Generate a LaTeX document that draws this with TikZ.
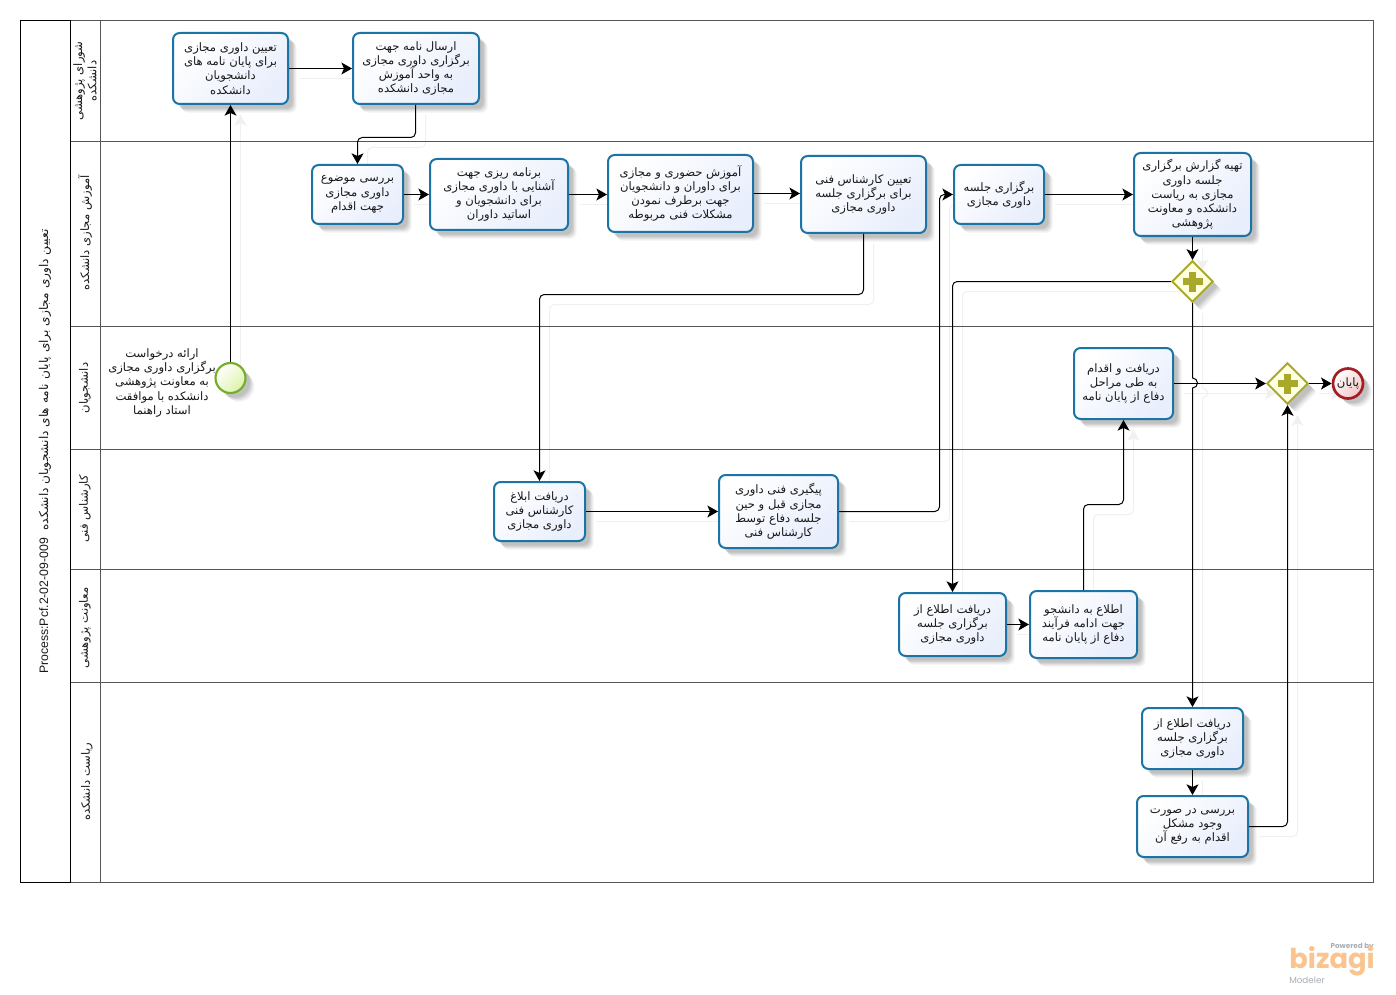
\documentclass[tikz,border=0pt]{standalone}
\usepackage{fontspec}
\setmainfont{DejaVu Sans}
\newfontfamily\arabicfont[Script=Arabic]{DejaVu Sans}
\newfontfamily\latinfont{Liberation Sans}
\newfontfamily\logofont{Poppins}
\TeXXeTstate=1
\usetikzlibrary{arrows.meta,shapes.geometric,shadows}
\pgfdeclarelayer{base}
\pgfdeclarelayer{ghost}
\pgfsetlayers{base,ghost,main}
\newcommand\fa[1]{\beginR #1\endR}
\definecolor{taskline}{HTML}{1B74A3}
\definecolor{taskfill}{HTML}{E8EEFC}
\definecolor{gateline}{HTML}{A8A82A}
\definecolor{gatefill}{HTML}{FFFFE2}
\definecolor{startline}{HTML}{72AE28}
\definecolor{startfill}{HTML}{DDF2A8}
\definecolor{endline}{HTML}{A31D22}
\definecolor{endfill}{HTML}{F2C6C6}
\definecolor{laneline}{HTML}{555555}
\definecolor{logoorange}{HTML}{F9C48F}
\definecolor{logogray}{HTML}{A9AFB5}
\tikzset{
  x=0.75pt,y=-0.75pt,
  farsi/.style={font=\arabicfont\fontsize{8.7}{10.7}\selectfont,align=center,text=black!90},
  softshadow/.style={
    drop shadow={shadow xshift=6.5pt,shadow yshift=-6.5pt,opacity=.05,fill=black},
    drop shadow={shadow xshift=5.5pt,shadow yshift=-5.5pt,opacity=.06,fill=black},
    drop shadow={shadow xshift=4.5pt,shadow yshift=-4.5pt,opacity=.07,fill=black},
    drop shadow={shadow xshift=3.5pt,shadow yshift=-3.5pt,opacity=.08,fill=black}},
  taskbox/.style={farsi,rectangle,rounded corners=5pt,draw=taskline,line width=1.5pt,
    left color=white,right color=taskfill,shading angle=45,inner sep=0pt,softshadow},
  gatebox/.style={diamond,aspect=1,inner sep=0pt,minimum width=31pt,minimum height=31pt,
    draw=gateline,line width=1.5pt,fill=gatefill,softshadow},
  plusmark/.style={fill=gateline,draw=none},
  startev/.style={circle,inner sep=0pt,minimum size=22.5pt,draw=startline,line width=1.6pt,
    left color=white,right color=startfill,shading angle=45,softshadow},
  endev/.style={farsi,circle,inner sep=0pt,minimum size=22.5pt,draw=endline,line width=2pt,
    left color=white,right color=endfill,shading angle=45,softshadow},
  lanetext/.style={farsi,rotate=90},
  laneedge/.style={draw=laneline,line width=.75pt},
  poolframe/.style={draw=black,line width=.75pt},
  connbase/.style={line width=.75pt,rounded corners=3.5pt,
    -{Stealth[length=8pt,width=9pt,inset=2pt]}},
  conn/.style={connbase,draw=black},
  ghostline/.style={connbase,draw=black!6,transform canvas={shift={(7.5pt,-7.5pt)}}},
}
\newcommand\tbox[6]{\node[taskbox,minimum width={(#4-#2)*0.75pt},minimum height={(#5-#3)*0.75pt}] (#1) at ({(#2+#4)/2},{(#3+#5)/2}) {#6};}
\newcommand\plus[1]{\fill[plusmark] ([shift={(-10,-3.5)}]#1) rectangle ([shift={(10,3.5)}]#1);\fill[plusmark] ([shift={(-3.5,-10)}]#1) rectangle ([shift={(3.5,10)}]#1);}
\newcommand\conn[2][]{\begin{pgfonlayer}{ghost}\draw[ghostline,#1] #2;\end{pgfonlayer}\draw[conn,#1] #2;}
\begin{document}
\begin{tikzpicture}
\useasboundingbox (0,0) rectangle (1396,995);
\begin{pgfonlayer}{base}
\fill[white] (0,0) rectangle (1396,995);
\end{pgfonlayer}
% pool and lanes
\draw[laneedge] (70.5,20.5) rectangle (1373.5,882.5);
\draw[laneedge] (100.5,20.5) -- (100.5,882.5);
\foreach \yy in {141.5,326.5,449.5,569.5,682.5} {\draw[laneedge] (70.5,\yy) -- (1373.5,\yy);}
\draw[poolframe] (20.5,20.5) rectangle (70.5,882.5);
\node[farsi,rotate=90,font=\arabicfont\fontsize{9.1}{11}\selectfont] (pooltitle) at (45,451.5) {{\latinfont\fontsize{9.2}{10}\selectfont Process:Pcf.2-02-09-009}\ \ \fa{تعیین داوری مجازی برای پایان نامه های دانشجویان دانشکده}};
\node[lanetext] (l1) at (85,81) {\fa{شورای پژوهشی}\\\fa{دانشکده}};
\node[lanetext] (l2) at (85,233) {\fa{آموزش مجازی دانشکده}};
\node[lanetext] (l3) at (85,388) {\fa{دانشجویان}};
\node[lanetext] (l4) at (85,509) {\fa{کارشناس فنی}};
\node[lanetext] (l5) at (85,628) {\fa{معاونت پژوهشی}};
\node[lanetext] (l6) at (87,782) {\fa{ریاست دانشکده}};
% tasks
\tbox{t1}{173}{33}{288}{104}{\fa{تعیین داوری مجازی}\\\fa{برای پایان نامه های}\\\fa{دانشجویان}\\\fa{دانشکده}}
\tbox{t2}{353}{33}{479}{104}{\fa{ارسال نامه جهت}\\\fa{برگزاری داوری مجازی}\\\fa{به واحد آموزش}\\\fa{مجازی دانشکده}}
\tbox{t3}{312}{165}{403}{224}{\fa{بررسی موضوع}\\\fa{داوری مجازی}\\\fa{جهت اقدام}}
\tbox{t4}{430}{159}{568}{230}{\fa{برنامه ریزی جهت}\\\fa{آشنایی با داوری مجازی}\\\fa{برای دانشجویان و}\\\fa{اساتید داوران}}
\tbox{t5}{608}{155}{753}{232}{\fa{آموزش حضوری و مجازی}\\\fa{برای داوران و دانشجویان}\\\fa{جهت برطرف نمودن}\\\fa{مشکلات فنی مربوطه}}
\tbox{t6}{801}{156}{926}{233}{\fa{تعیین  کارشناس فنی}\\\fa{برای برگزاری جلسه}\\\fa{داوری مجازی}}
\tbox{t7}{954}{165}{1044}{224}{\fa{برگزاری جلسه}\\\fa{داوری مجازی}}
\tbox{t8}{1134}{153}{1251}{236}{\fa{تهیه گزارش برگزاری}\\\fa{جلسه داوری}\\\fa{مجازی به ریاست}\\\fa{دانشکده و معاونت}\\\fa{پژوهشی}}
\tbox{t9}{1074}{348}{1173}{419}{\fa{دریافت و اقدام}\\\fa{به طی مراحل}\\\fa{دفاع از پایان نامه}}
\tbox{t10}{494}{482}{585}{541}{\fa{دریافت ابلاغ}\\\fa{کارشناس فنی}\\\fa{داوری مجازی}}
\tbox{t11}{719}{475}{838}{548}{\fa{پیگیری  فنی داوری}\\\fa{مجازی قبل و حین}\\\fa{جلسه دفاع توسط}\\\fa{کارشناس فنی}}
\tbox{t12}{899}{593}{1006}{656}{\fa{دریافت اطلاع از}\\\fa{برگزاری جلسه}\\\fa{داوری مجازی}}
\tbox{t13}{1030}{591}{1137}{658}{\fa{اطلاع به دانشجو}\\\fa{جهت ادامه فرآیند}\\\fa{دفاع از پایان نامه}}
\tbox{t14}{1142}{708}{1243}{769}{\fa{دریافت اطلاع از}\\\fa{برگزاری جلسه}\\\fa{داوری مجازی}}
\tbox{t15}{1137}{796}{1248}{857}{\fa{بررسی در صورت}\\\fa{وجود  مشکل}\\\fa{اقدام به رفع آن}}
% events and gateways
\node[startev] (start) at (230.5,378) {};
\node[farsi] (startlabel) at (162,383) {\fa{ارائه درخواست}\\\fa{برگزاری داوری مجازی}\\\fa{به معاونت پژوهشی}\\\fa{دانشکده با موافقت}\\\fa{استاد راهنما}};
\node[gatebox] (g1) at (1192.5,281.5) {};
\plus{g1}
\node[gatebox] (g2) at (1287.5,383.5) {};
\plus{g2}
\node[endev] (endnode) at (1348,383.5) {\fa{پایان}};
% connectors
\coordinate (c2a) at (415.5,137.5);
\coordinate (c6a) at (863.5,294.5);
\coordinate (c13a) at (1083.5,504.5);
\coordinate (c11a) at (939.5,511.5);
\coordinate (hopA) at (1192.5,378);
\conn{(start.north) -- (t1.south -| start.north)}
\conn{(t1.east) -- (t2.west)}
\conn{(t2.south -| c2a) -- (c2a) -- (c2a -| t3.north) -- (t3.north)}
\conn{(t3.east) -- (t4.west)}
\conn{(t4.east) -- (t5.west |- t4.east)}
\conn{(t5.east) -- (t6.west |- t5.east)}
\conn{(t6.south) -- (c6a) -- (c6a -| t10.north) -- (t10.north)}
\conn{(t7.east) -- (t8.west)}
\conn{(t11.east) -- (c11a) -- (c11a |- t7.west) -- (t7.west)}
\conn{(t8.south -| g1.north) -- (g1.north)}
\conn{(g1.west) -- (g1.west -| t12.north) -- (t12.north)}
\conn[sharp corners]{(g1.south) -- (hopA) arc[start angle=90,end angle=-90,radius=3.75pt] -- (t14.north -| g1.south)}
\conn{(t9.east |- g2.west) -- (g2.west)}
\conn{(g2.east) -- (endnode.west |- g2.east)}
\conn{(t12.east) -- (t13.west |- t12.east)}
\conn{(t13.north) -- (c13a) -- (c13a -| t9.south) -- (t9.south)}
\conn{(t10.east) -- (t11.west |- t10.east)}
\conn{(t14.south -| t15.north) -- (t15.north)}
\conn{(t15.east) -- (t15.east -| g2.south) -- (g2.south)}
% logo
\node[text=logogray,font=\logofont\bfseries\fontsize{5.4}{6}\selectfont,anchor=east,inner sep=0pt] (logoa) at (1374,947) {Powered by};
\node[text=logoorange,font=\logofont\bfseries\fontsize{20.5}{22}\selectfont,anchor=east,inner sep=0pt] (logob) at (1375,961) {bizagi};
\node[text=logogray,font=\logofont\fontsize{6.6}{7}\selectfont,anchor=west,inner sep=0pt] (logoc) at (1289,980) {Modeler};
\end{tikzpicture}
\end{document}
